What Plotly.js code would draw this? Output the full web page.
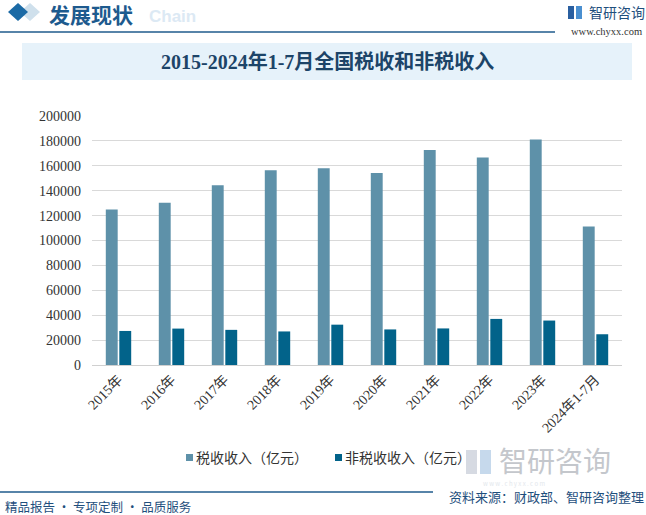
<!DOCTYPE html>
<html><head><meta charset="utf-8">
<script src="https://cdn.plot.ly/plotly-3.0.1.min.js"></script>
<style>html,body{margin:0;padding:0;background:#fff}#c{width:646px;height:515px}</style>
</head><body><div id="c"></div>
<script>
const categories = ['2015年','2016年','2017年','2018年','2019年','2020年','2021年','2022年','2023年','2024年1-7月'];
const taxRevenue = [124922,130361,144370,156403,157992,154312,172731,166614,181129,111200];
const nonTaxRevenue = [27347,29244,28226,26957,32390,28568,29376,37017,35703,24700];
const seriesNames = ['税收收入（亿元）','非税收收入（亿元）'];
const seriesColors = ['#5e91a9','#02638a'];
const yTicks = [0,20000,40000,60000,80000,100000,120000,140000,160000,180000,200000];

const L=92,R=622,T=116,B=365;
const px = x => (x-L)/(R-L);
const py = y => (B-y)/(B-T);
const serif = 'Liberation Serif, Noto Sans CJK SC, serif';
const cjk = 'Noto Sans CJK SC, sans-serif';

const traces = [
  {type:'bar', name:seriesNames[0], x:categories, y:taxRevenue, marker:{color:seriesColors[0]}, showlegend:false},
  {type:'bar', name:seriesNames[1], x:categories, y:nonTaxRevenue, marker:{color:seriesColors[1]}, showlegend:false}
];

const rect = (x0,y0,x1,y1,c,layer) => ({type:'rect', xref:'paper', yref:'paper', x0:px(x0), x1:px(x1), y0:py(y1), y1:py(y0), fillcolor:c, line:{width:0}, layer:layer||'above'});
const shapes = [
  {type:'path', xref:'paper', yref:'paper', path:`M ${px(20)} ${py(12)} L ${px(30)} ${py(3)} L ${px(40)} ${py(12)} L ${px(30)} ${py(21)} Z`, fillcolor:'#cfe0ec', line:{width:0}},
  {type:'path', xref:'paper', yref:'paper', path:`M ${px(8)} ${py(12)} L ${px(18)} ${py(3)} L ${px(28)} ${py(12)} L ${px(18)} ${py(21)} Z`, fillcolor:'#1b6aa5', line:{width:0}},
  {type:'line', xref:'paper', yref:'paper', x0:px(0), x1:px(555), y0:py(32), y1:py(32), line:{color:'#1f5b8c', width:1.5}},
  rect(22,43,632,80,'#e6f2fa','below'),
  rect(568,6,574,19,'#2a5fa0'), rect(576,6,582,19,'#4a8fd0'),
  {type:'line', xref:'paper', yref:'paper', x0:px(0), x1:px(433), y0:py(492), y1:py(492), line:{color:'#1f5b8c', width:1.5}},
  rect(466,450,477,474,'#d6dae2','below'), rect(480,450,491,474,'#c6d9ec','below'),
  rect(186,454,193,461,seriesColors[0]), rect(335,454,342,461,seriesColors[1])
];

const ann = (x,y,text,opt) => Object.assign({xref:'paper', yref:'paper', x:px(x), y:py(y), text, showarrow:false, xanchor:'left', yanchor:'middle'}, opt||{});
const annotations = [
  ann(147,17,'<b>Chain</b>',{font:{family:'Liberation Sans, sans-serif', size:17, color:'#dce9f4'}}),
  ann(47,14,'<b>发展现状</b>',{font:{family:cjk, size:21, color:'#1d5a8e'}}),
  ann(587,12,'智研咨询',{font:{family:cjk, size:14, color:'#1f4f7d'}}),
  ann(644,31,'www.chyxx.com',{xanchor:'right', font:{family:serif, size:10.5, color:'#333'}}),
  ann(327,62,'<b>2015-2024年1-7月全国税收和非税收入</b>',{xanchor:'center', font:{family:serif, size:20, color:'#1c4468'}}),
  ann(194,457,seriesNames[0],{font:{family:cjk, size:14, color:'#333'}}),
  ann(343,457,seriesNames[1],{font:{family:cjk, size:14, color:'#333'}}),
  ann(498,459.5,'智研咨询',{borderpad:0, font:{family:cjk, size:28, color:'#c4c7cc'}}),
  ann(482,483.3,'w w w . c h y x x . c o m',{borderpad:0, font:{family:cjk, size:6, color:'#e3e7ec'}}),
  ann(645,496.8,'资料来源：财政部、智研咨询整理',{borderpad:0, xanchor:'right', font:{family:cjk, size:13, color:'#1f4f7d'}}),
  ann(3,506,'精品报告 · 专项定制 · 品质服务',{font:{family:cjk, size:12.5, color:'#1f4f7d'}})
];

const layout = {
  width:646, height:515,
  margin:{l:L, r:646-R, t:T, b:515-B},
  paper_bgcolor:'#fff', plot_bgcolor:'#fff',
  barmode:'group', bargap:0.49, bargroupgap:0.12,
  showlegend:false,
  xaxis:{type:'category', tickangle:-45, tickfont:{family:serif, size:14, color:'#333'}, showline:true, linecolor:'#d0d0d0', linewidth:1, ticks:'', showgrid:false},
  yaxis:{range:[0,200000], tickvals:yTicks, ticktext:yTicks.map(String), tickfont:{family:serif, size:14, color:'#333'}, showgrid:true, gridcolor:'#d9d9d9', gridwidth:1, zeroline:false, showline:false, ticks:'', ticklabelstandoff:10},
  shapes, annotations
};
Plotly.newPlot('c', traces, layout, {displayModeBar:false, staticPlot:true});
</script></body></html>
